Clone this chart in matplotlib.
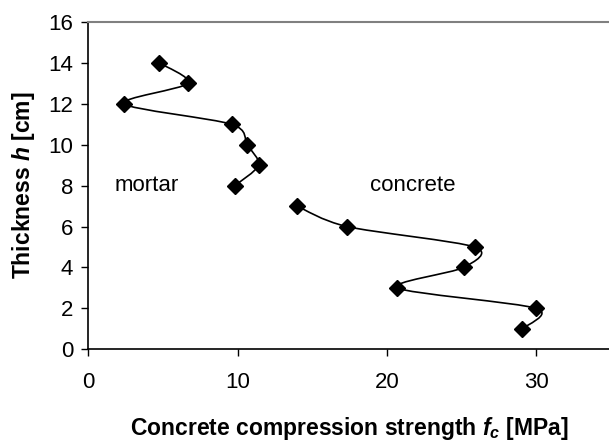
import numpy as np
import matplotlib
matplotlib.use("Agg")
import matplotlib.pyplot as plt
from matplotlib.path import Path
from matplotlib.patches import PathPatch

plt.rcParams['font.family'] = ['Liberation Sans', 'DejaVu Sans']
plt.rcParams['mathtext.fontset'] = 'custom'
plt.rcParams['mathtext.it'] = 'Liberation Sans:italic:bold'
plt.rcParams['mathtext.rm'] = 'Liberation Sans:bold'

# mortar layer (upper part)
mortar_h = [14, 13, 12, 11, 10, 9, 8]
mortar_fc = [4.75, 6.67, 2.39, 9.59, 10.64, 11.4, 9.81]

# concrete layer (lower part)
concrete_h = [7, 6, 5, 4, 3, 2, 1]
concrete_fc = [13.98, 17.32, 25.87, 25.13, 20.7, 30.0, 29.06]

x_ticks = [0, 10, 20, 30]
y_ticks = [0, 2, 4, 6, 8, 10, 12, 14, 16]


def smooth_path(xs, ys, k=1 / 7.0):
    # Excel-like smoothed line (cardinal spline as cubic bezier)
    p = np.column_stack([xs, ys]).astype(float)
    n = len(p)
    verts = [p[0]]
    codes = [Path.MOVETO]
    for i in range(n - 1):
        p0 = p[i - 1] if i > 0 else p[i]
        p1 = p[i]
        p2 = p[i + 1]
        p3 = p[i + 2] if i + 2 < n else p[i + 1]
        c1 = p1 + (p2 - p0) * k
        c2 = p2 - (p3 - p1) * k
        verts += [c1, c2, p2]
        codes += [Path.CURVE4] * 3
    return Path(verts, codes)


fig = plt.figure(figsize=(6.09, 4.41), dpi=100)
ax = fig.add_axes([88.3 / 609, 1 - 349.3 / 441, (611 - 88.3) / 609, (349.3 - 22) / 441])

for xs, ys in [(mortar_fc, mortar_h), (concrete_fc, concrete_h)]:
    ax.add_patch(PathPatch(smooth_path(xs, ys), facecolor='none',
                           edgecolor='black', lw=1.2, zorder=2))
    ax.plot(xs, ys, linestyle='none', marker='D', ms=8, color='black', zorder=3)

ax.text(1.74, 8, 'mortar', fontsize=16, ha='left', va='center')
ax.text(18.85, 8, 'concrete', fontsize=16, ha='left', va='center')

ax.set_xlim(0, 35)
ax.set_ylim(0, 16)
ax.set_xticks(x_ticks)
ax.set_yticks(y_ticks)
ax.tick_params(direction='out', length=5, width=1, labelsize=16)
ax.tick_params(axis='x', pad=11)
ax.tick_params(axis='y', pad=6)

ax.spines['top'].set_color('#808080')
ax.spines['top'].set_linewidth(1.5)
ax.spines['right'].set_visible(False)
ax.spines['left'].set_linewidth(1.2)
ax.spines['bottom'].set_linewidth(1.2)

ax.set_xlabel('Concrete compression strength $f_c$ [MPa]', fontsize=16.5,
              fontweight='bold', labelpad=16)
ax.set_ylabel('Thickness $h$ [cm]', fontsize=16.5, fontweight='bold', labelpad=8)

fig.savefig('out.png', dpi=100)
